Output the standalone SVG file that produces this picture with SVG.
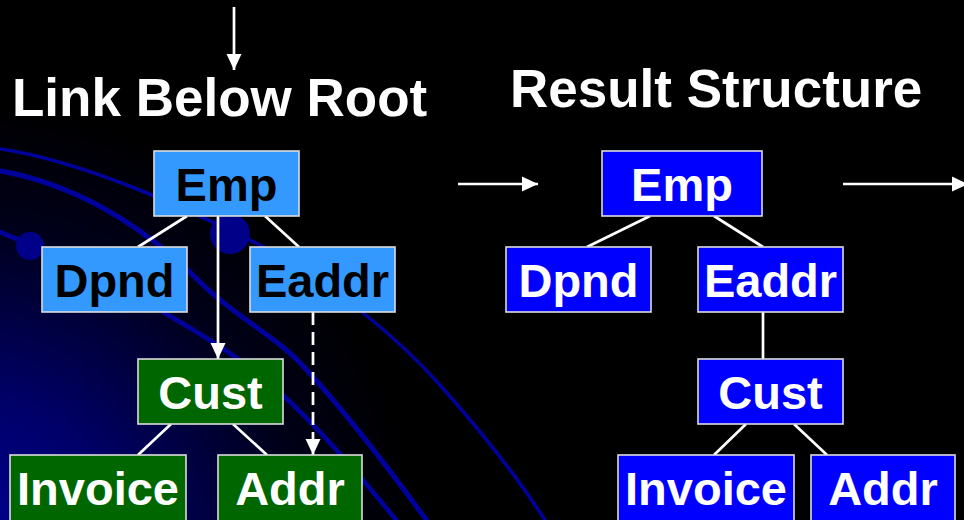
<svg xmlns="http://www.w3.org/2000/svg" width="964" height="520" viewBox="0 0 964 520">
  <defs>
    <radialGradient id="glow" gradientUnits="userSpaceOnUse" cx="-40" cy="560" r="460">
      <stop offset="0" stop-color="#000096"/>
      <stop offset="0.35" stop-color="#00006a"/>
      <stop offset="0.75" stop-color="#000018"/>
      <stop offset="1" stop-color="#000000"/>
    </radialGradient>
    <marker id="head" markerUnits="userSpaceOnUse" markerWidth="18" markerHeight="18" viewBox="0 0 18 18" refX="16" refY="9" orient="auto">
      <path d="M0,1.5 L16,9 L0,16.5 Z" fill="#ffffff"/>
    </marker>
    <style>
      .orbit { fill: none; stroke: #00009c; stroke-linecap: round; }
      .dot { fill: #000088; }
      .box { stroke: #dcdcdc; stroke-width: 1.6; }
      .lblue { fill: #3399ff; }
      .green { fill: #006600; }
      .blue { fill: #0000ff; }
      .title { font-family: "Liberation Sans", Arial, sans-serif; font-weight: bold; font-size: 53px; fill: #ffffff; }
      .lbl { font-family: "Liberation Sans", Arial, sans-serif; font-weight: bold; font-size: 47px; text-anchor: middle; }
      .dark { fill: #000000; }
      .light { fill: #ffffff; }
      .edge { stroke: #ffffff; stroke-width: 2.7; fill: none; }
      .arrow { stroke: #ffffff; stroke-width: 2.7; fill: none; marker-end: url(#head); }
      .dashed { stroke-dasharray: 13 7; }
    </style>
  </defs>

  <!-- background -->
  <rect x="0" y="0" width="964" height="520" fill="#000000"/>
  <rect x="0" y="0" width="964" height="520" fill="url(#glow)"/>
  <g id="backdrop">
    <path class="orbit" stroke-width="3.5" d="M-5,148 C80,160 180,205 260,245 C330,280 400,340 440,385 C480,430 520,480 548,525"/>
    <path class="orbit" stroke-width="5" d="M-5,170 C70,182 140,222 200,282 C235,317 275,335 305,368 C340,406 390,470 430,525"/>
    <path class="orbit" stroke-width="4.5" d="M-5,230 C40,248 110,280 163,312 C220,345 250,365 285,397 C320,430 360,475 400,525"/>
    <circle class="dot" cx="30" cy="246" r="14"/>
    <circle class="dot" cx="230" cy="234" r="20"/>
  </g>

  <!-- titles -->
  <text class="title" x="12" y="116">Link Below Root</text>
  <text class="title" x="510" y="107">Result Structure</text>

  <!-- connectors -->
  <g id="connectors">
    <line class="arrow" x1="234" y1="7" x2="234" y2="70"/>
    <!-- left tree -->
    <line class="edge" x1="187" y1="216" x2="138" y2="247"/>
    <line class="edge" x1="265" y1="216" x2="299" y2="247"/>
    <line class="arrow" x1="218" y1="216" x2="218" y2="359"/>
    <line class="arrow dashed" x1="313" y1="312" x2="313" y2="455"/>
    <line class="edge" x1="171" y1="424" x2="138" y2="455"/>
    <line class="edge" x1="233" y1="424" x2="267" y2="455"/>
    <!-- transition arrows -->
    <line class="arrow" x1="458" y1="184" x2="538" y2="184"/>
    <line class="arrow" x1="843" y1="184" x2="968" y2="184"/>
    <!-- right tree -->
    <line class="edge" x1="650" y1="216" x2="587" y2="247"/>
    <line class="edge" x1="714" y1="216" x2="763" y2="247"/>
    <line class="edge" x1="763" y1="312" x2="763" y2="359"/>
    <line class="edge" x1="746" y1="424" x2="714" y2="455"/>
    <line class="edge" x1="794" y1="424" x2="827" y2="455"/>
  </g>

  <!-- left tree nodes -->
  <g id="l-emp">
    <rect class="box lblue" x="154" y="151" width="145" height="65"/>
    <text class="lbl dark" x="226.5" y="201">Emp</text>
  </g>
  <g id="l-dpnd">
    <rect class="box lblue" x="42" y="247" width="145" height="65"/>
    <text class="lbl dark" x="114.5" y="297">Dpnd</text>
  </g>
  <g id="l-eaddr">
    <rect class="box lblue" x="250" y="247" width="145" height="65"/>
    <text class="lbl dark" x="322.5" y="297">Eaddr</text>
  </g>
  <g id="l-cust">
    <rect class="box green" x="138" y="359" width="145" height="65"/>
    <text class="lbl light" x="210.5" y="409">Cust</text>
  </g>
  <g id="l-invoice">
    <rect class="box green" x="10" y="455" width="176" height="68"/>
    <text class="lbl light" x="98" y="505">Invoice</text>
  </g>
  <g id="l-addr">
    <rect class="box green" x="218" y="455" width="144" height="68"/>
    <text class="lbl light" x="290" y="505">Addr</text>
  </g>

  <!-- right tree nodes -->
  <g id="r-emp">
    <rect class="box blue" x="602" y="151" width="160" height="65"/>
    <text class="lbl light" x="682" y="201">Emp</text>
  </g>
  <g id="r-dpnd">
    <rect class="box blue" x="506" y="247" width="145" height="65"/>
    <text class="lbl light" x="578.5" y="297">Dpnd</text>
  </g>
  <g id="r-eaddr">
    <rect class="box blue" x="698" y="247" width="145" height="65"/>
    <text class="lbl light" x="770.5" y="297">Eaddr</text>
  </g>
  <g id="r-cust">
    <rect class="box blue" x="698" y="359" width="145" height="65"/>
    <text class="lbl light" x="770.5" y="409">Cust</text>
  </g>
  <g id="r-invoice">
    <rect class="box blue" x="618" y="455" width="176" height="68"/>
    <text class="lbl light" x="706" y="505">Invoice</text>
  </g>
  <g id="r-addr">
    <rect class="box blue" x="811" y="455" width="144" height="68"/>
    <text class="lbl light" x="883" y="505">Addr</text>
  </g>
</svg>
